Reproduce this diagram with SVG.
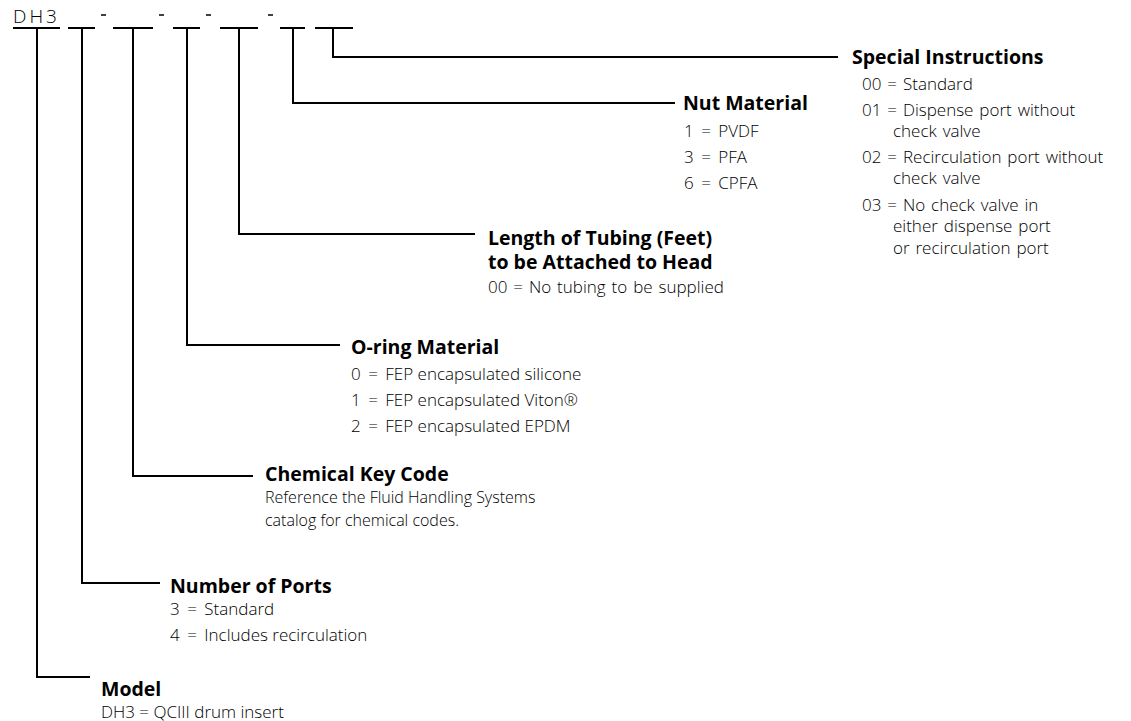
<svg xmlns="http://www.w3.org/2000/svg" width="1131" height="721" viewBox="0 0 1131 721">
<style>
.bg{fill:#fff}
.ln{fill:none;stroke:#000;stroke-width:2}
.h{font-family:"Open Sans","Noto Sans",sans-serif;font-weight:bold;font-size:19.5px;fill:#000}
.t{font-family:"Open Sans","Noto Sans",sans-serif;font-weight:300;font-size:17px;fill:#000}
.w1{word-spacing:1.5px}
.c{font-size:16px}
.code{font-family:"Open Sans","Noto Sans",sans-serif;font-weight:300;font-size:19px;fill:#000;letter-spacing:3px}
</style>
<rect class="bg" x="0" y="0" width="1131" height="721"/>
<g id="code">
<text class="code" x="13" y="23">DH3</text>
<g class="ln">
<line x1="13" y1="28" x2="60" y2="28"/>
<line x1="68" y1="28" x2="95" y2="28"/>
<line x1="113" y1="28" x2="153" y2="28"/>
<line x1="173" y1="28" x2="200" y2="28"/>
<line x1="220" y1="28" x2="258" y2="28"/>
<line x1="280" y1="28" x2="305" y2="28"/>
<line x1="315" y1="28" x2="353" y2="28"/>
</g>
<g stroke="#000" stroke-width="1.5">
<line x1="101" y1="15" x2="106" y2="15"/>
<line x1="159" y1="15" x2="164" y2="15"/>
<line x1="206" y1="15" x2="211" y2="15"/>
<line x1="268" y1="15" x2="273" y2="15"/>
</g>
</g>
<g id="connectors" class="ln">
<polyline points="37,28 37,677 90,677"/>
<polyline points="82,28 82,583 160,583"/>
<polyline points="133,28 133,476 253,476"/>
<polyline points="187,28 187,345 340,345"/>
<polyline points="239,28 239,234 475,234"/>
<polyline points="293,28 293,103 675,103"/>
<polyline points="333,28 333,57 838,57"/>
</g>
<g id="special">
<text class="h" x="852" y="64">Special Instructions</text>
<text class="t w1" x="862" y="90">00 = Standard</text>
<text class="t w1" x="862" y="116">01 = Dispense port without</text>
<text class="t w1" x="893" y="137">check valve</text>
<text class="t w1" x="862" y="163">02 = Recirculation port without</text>
<text class="t w1" x="893" y="184">check valve</text>
<text class="t w1" x="862" y="211">03 = No check valve in</text>
<text class="t w1" x="893" y="232">either dispense port</text>
<text class="t w1" x="893" y="254">or recirculation port</text>
</g>
<g id="nut">
<text class="h" x="683" y="110">Nut Material</text>
<text class="t" x="684" y="137">1 <tspan dx="3">=</tspan> <tspan dx="3">PVDF</tspan></text>
<text class="t" x="684" y="163">3 <tspan dx="3">=</tspan> <tspan dx="3">PFA</tspan></text>
<text class="t" x="684" y="189">6 <tspan dx="3">=</tspan> <tspan dx="3">CPFA</tspan></text>
</g>
<g id="tubing">
<text class="h" x="488" y="245">Length of Tubing (Feet)</text>
<text class="h" x="488" y="269">to be Attached to Head</text>
<text class="t w1" x="488" y="293">00 = No tubing to be supplied</text>
</g>
<g id="oring">
<text class="h" x="351" y="354">O-ring Material</text>
<text class="t" x="351" y="380">0 <tspan dx="3">=</tspan> <tspan dx="3">FEP encapsulated silicone</tspan></text>
<text class="t" x="351" y="406">1 <tspan dx="3">=</tspan> <tspan dx="3">FEP encapsulated Viton®</tspan></text>
<text class="t" x="351" y="432">2 <tspan dx="3">=</tspan> <tspan dx="3">FEP encapsulated EPDM</tspan></text>
</g>
<g id="chemical">
<text class="h" x="265" y="481">Chemical Key Code</text>
<text class="t c" x="265" y="503">Reference the Fluid Handling Systems</text>
<text class="t c" x="265" y="526">catalog for chemical codes.</text>
</g>
<g id="ports">
<text class="h" x="170" y="593">Number of Ports</text>
<text class="t" x="170" y="615">3 <tspan dx="3">=</tspan> <tspan dx="3">Standard</tspan></text>
<text class="t" x="170" y="641">4 <tspan dx="3">=</tspan> <tspan dx="3">Includes recirculation</tspan></text>
</g>
<g id="model">
<text class="h" x="101" y="696">Model</text>
<text class="t" x="101" y="718">DH3 = QCIII drum insert</text>
</g>
</svg>
